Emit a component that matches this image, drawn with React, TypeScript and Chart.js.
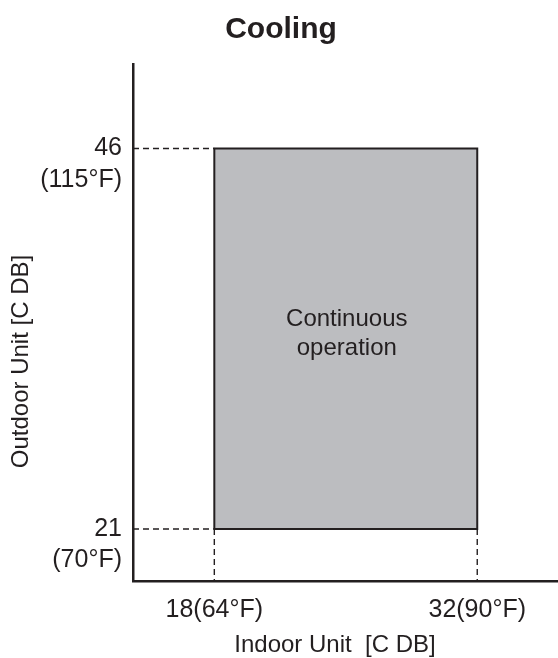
import React, { useEffect, useRef } from 'react';
import { Chart, registerables } from 'chart.js';

Chart.register(...registerables);

const FONT = '"Liberation Sans", Arial, Helvetica, sans-serif';
const INK = '#231f20';
const REGION_FILL = '#bcbdc0';

const CHART_TITLE = 'Cooling';
const X_AXIS_TITLE = 'Indoor Unit  [C DB]';
const Y_AXIS_TITLE = 'Outdoor Unit [C DB]';
const X_TICK_VALUES = [18, 32];
const X_TICK_LABELS = ['18(64°F)', '32(90°F)'];
const Y_TICK_VALUES = [21, 46];
const Y_TICK_LABELS = [['21', '(70°F)'], ['46', '(115°F)']];
const INDOOR_LIMITS = [18, 32];
const OUTDOOR_LIMITS = [21, 46];
const X_AXIS_RANGE = [13.67, 36.3];
const Y_AXIS_RANGE = [17.58, 51.55];
const REGION_LABEL = ['Continuous', 'operation'];

const labelPlugin = {
  id: 'labelPlugin',
  afterDraw(chart: any) {
    const { ctx, chartArea, scales } = chart;
    const xs = scales.x;
    const ys = scales.y;
    ctx.save();
    ctx.fillStyle = INK;
    ctx.textBaseline = 'alphabetic';

    // chart title, centred on the whole canvas
    ctx.font = `bold 30px ${FONT}`;
    ctx.textAlign = 'center';
    ctx.fillText(CHART_TITLE, chart.width / 2 + 2, 38);

    // y tick labels (two lines each)
    ctx.font = `25px ${FONT}`;
    ctx.textAlign = 'right';
    Y_TICK_VALUES.forEach((v, i) => {
      const py = ys.getPixelForValue(v);
      const lines = Y_TICK_LABELS[i];
      ctx.fillText(lines[0], chartArea.left - 11, py + 7);
      ctx.fillText(lines[1], chartArea.left - 11, py + 38.5);
    });

    // x tick labels
    ctx.textAlign = 'center';
    X_TICK_VALUES.forEach((v, i) => {
      const px = xs.getPixelForValue(v);
      ctx.fillText(X_TICK_LABELS[i], px, chartArea.bottom + 36);
    });

    // x axis title
    ctx.font = `24px ${FONT}`;
    ctx.textAlign = 'center';
    ctx.fillText(X_AXIS_TITLE, (chartArea.left + chartArea.right) / 2 - 10.5, chartArea.bottom + 70.5);

    // y axis title (rotated)
    ctx.save();
    ctx.translate(27.5, (chartArea.top + chartArea.bottom) / 2 + 39);
    ctx.rotate(-Math.PI / 2);
    ctx.textAlign = 'center';
    ctx.fillText(Y_AXIS_TITLE, 0, 0);
    ctx.restore();

    // region label
    const cx = (xs.getPixelForValue(INDOOR_LIMITS[0]) + xs.getPixelForValue(INDOOR_LIMITS[1])) / 2;
    const cy = (ys.getPixelForValue(OUTDOOR_LIMITS[0]) + ys.getPixelForValue(OUTDOOR_LIMITS[1])) / 2;
    ctx.font = `24px ${FONT}`;
    ctx.textAlign = 'center';
    ctx.fillText(REGION_LABEL[0], cx + 1, cy - 13);
    ctx.fillText(REGION_LABEL[1], cx + 1, cy + 16);
    ctx.restore();
  },
};

export default function App() {
  const canvasRef = useRef<HTMLCanvasElement | null>(null);

  useEffect(() => {
    document.body.style.margin = '0';
    const canvas = canvasRef.current;
    if (!canvas) return;

    const [x0, x1] = INDOOR_LIMITS;
    const [y0, y1] = OUTDOOR_LIMITS;
    const [xMin] = X_AXIS_RANGE;
    const [yMin] = Y_AXIS_RANGE;

    const guide = (data: { x: number; y: number }[]) => ({
      data,
      borderColor: INK,
      borderWidth: 1.4,
      borderDash: [6, 4],
      pointRadius: 0,
      fill: false,
      tension: 0,
    });

    const chart = new Chart(canvas, {
      type: 'line',
      data: {
        datasets: [
          {
            data: [
              { x: x0, y: y0 },
              { x: x0, y: y1 },
              { x: x1, y: y1 },
              { x: x1, y: y0 },
              { x: x0, y: y0 },
            ],
            borderColor: INK,
            borderWidth: 2,
            pointRadius: 0,
            fill: false,
            tension: 0,
          },
          {
            data: [
              { x: x0, y: y1 },
              { x: x1, y: y1 },
            ],
            borderColor: 'rgba(0,0,0,0)',
            borderWidth: 0,
            backgroundColor: REGION_FILL,
            pointRadius: 0,
            fill: '+1',
          },
          {
            data: [
              { x: x0, y: y0 },
              { x: x1, y: y0 },
            ],
            borderColor: 'rgba(0,0,0,0)',
            borderWidth: 0,
            pointRadius: 0,
            fill: false,
          },
          guide([{ x: xMin, y: y1 }, { x: x0, y: y1 }]),
          guide([{ x: xMin, y: y0 }, { x: x0, y: y0 }]),
          guide([{ x: x0, y: y0 }, { x: x0, y: yMin }]),
          guide([{ x: x1, y: y0 }, { x: x1, y: yMin }]),
        ] as any,
      },
      options: {
        animation: false,
        responsive: false,
        devicePixelRatio: window.devicePixelRatio || 1,
        layout: { padding: { left: 133, right: 0, top: 64, bottom: 77 } },
        plugins: {
          legend: { display: false },
          tooltip: { enabled: false },
          title: { display: false },
        },
        scales: {
          x: {
            type: 'linear',
            min: X_AXIS_RANGE[0],
            max: X_AXIS_RANGE[1],
            ticks: { display: false },
            grid: { display: false, drawTicks: false },
            border: { display: true, color: INK, width: 2.5 },
          },
          y: {
            type: 'linear',
            min: Y_AXIS_RANGE[0],
            max: Y_AXIS_RANGE[1],
            ticks: { display: false },
            grid: { display: false, drawTicks: false },
            border: { display: true, color: INK, width: 2.5 },
          },
        },
      } as any,
      plugins: [labelPlugin],
    });

    return () => chart.destroy();
  }, []);

  return (
    <div style={{ position: 'absolute', left: 0, top: 0, width: 558, height: 658, background: '#fff' }}>
      <canvas ref={canvasRef} width={558} height={658} style={{ width: 558, height: 658, display: 'block' }} />
    </div>
  );
}
